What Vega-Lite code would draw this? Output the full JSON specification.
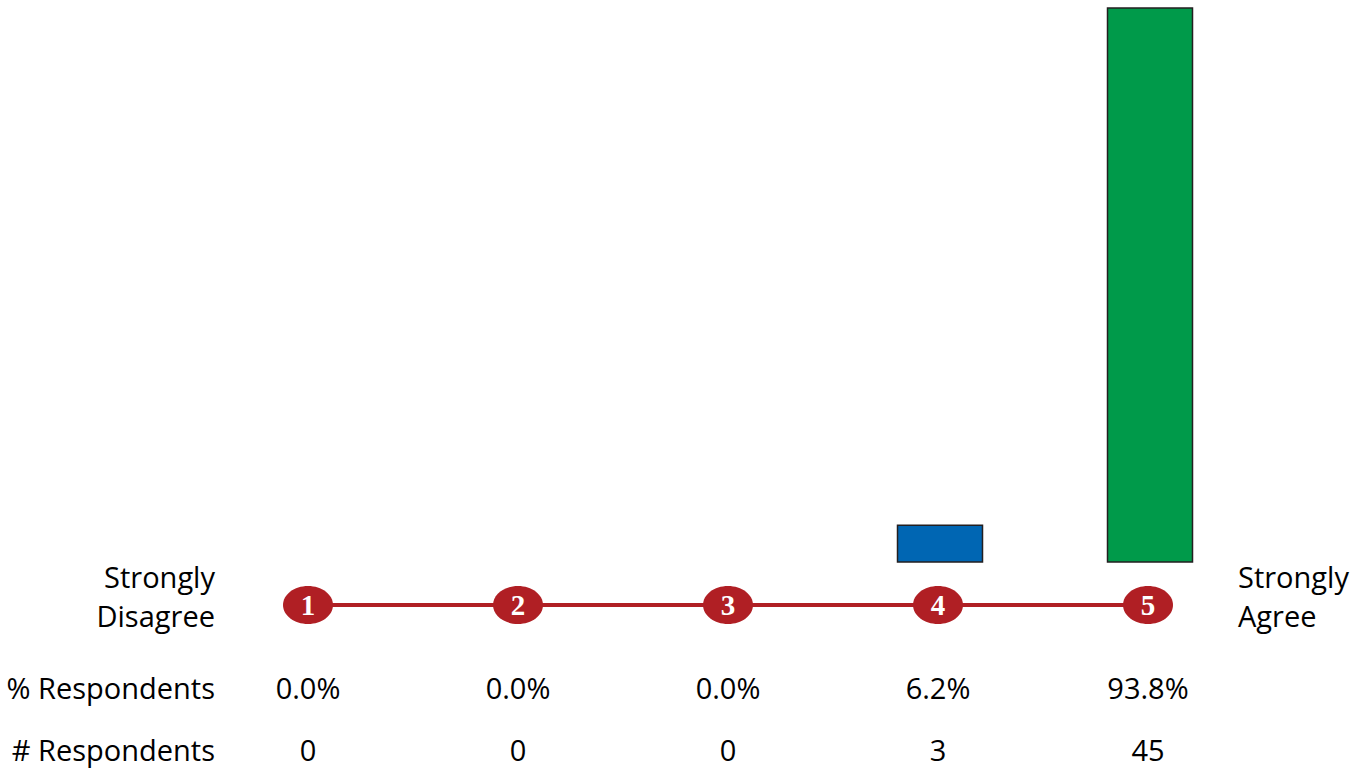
{
  "$schema": "https://vega.github.io/schema/vega-lite/v6.json",
  "width": 1360,
  "height": 770,
  "padding": 0,
  "autosize": "none",
  "config": {"view": {"stroke": null}, "text": {"font": "Open Sans", "fontSize": 29, "color": "#000000"}},
  "data": {"values": [
    {"score": 1, "share": 0.0, "count": 0},
    {"score": 2, "share": 0.0, "count": 0},
    {"score": 3, "share": 0.0, "count": 0},
    {"score": 4, "share": 0.062, "count": 3},
    {"score": 5, "share": 0.938, "count": 45}
  ]},
  "layer": [
    {
      "transform": [{"filter": "datum.share > 0"}],
      "mark": {"type": "bar", "width": 85, "xOffset": 2, "stroke": "#231f20", "strokeWidth": 1.5},
      "encoding": {
        "x": {"field": "score", "type": "quantitative", "scale": {"domain": [-0.4667, 6.0095], "nice": false, "zero": false, "padding": 0}, "axis": null},
        "y": {"field": "share", "type": "quantitative", "scale": {"domain": [-0.3522, 0.9515], "nice": false, "zero": false, "padding": 0}, "axis": null},
        "y2": {"datum": 0},
        "color": {"field": "score", "type": "nominal", "scale": {"domain": [1, 2, 3, 4, 5], "range": ["#c0272d", "#f7941d", "#ffde17", "#0066b3", "#009a4a"]}, "legend": null}
      }
    },
    {
      "mark": {"type": "line", "color": "#b01f24", "strokeWidth": 4},
      "encoding": {
        "x": {"field": "score", "type": "quantitative", "scale": {"domain": [-0.4667, 6.0095], "nice": false, "zero": false, "padding": 0}, "axis": null},
        "y": {"datum": -0.0728, "type": "quantitative", "scale": {"domain": [-0.3522, 0.9515], "nice": false, "zero": false, "padding": 0}, "axis": null}
      }
    },
    {
      "mark": {"type": "point", "shape": "M -1 0 A 1 0.76 0 1 0 1 0 A 1 0.76 0 1 0 -1 0 Z", "filled": true, "color": "#b01f24", "opacity": 1, "size": 2500},
      "encoding": {
        "x": {"field": "score", "type": "quantitative"},
        "y": {"datum": -0.0728, "type": "quantitative"}
      }
    },
    {
      "mark": {"type": "text", "font": "Liberation Serif", "fontWeight": "bold", "fontSize": 29, "color": "#ffffff", "baseline": "middle", "dy": 1},
      "encoding": {
        "x": {"field": "score", "type": "quantitative"},
        "y": {"datum": -0.0728, "type": "quantitative"},
        "text": {"field": "score", "type": "quantitative"}
      }
    },
    {
      "mark": {"type": "text", "baseline": "middle", "align": "center"},
      "encoding": {
        "x": {"field": "score", "type": "quantitative"},
        "y": {"datum": -0.2167, "type": "quantitative"},
        "text": {"field": "share", "type": "quantitative", "format": ".1%"}
      }
    },
    {
      "mark": {"type": "text", "baseline": "middle", "align": "center"},
      "encoding": {
        "x": {"field": "score", "type": "quantitative"},
        "y": {"datum": -0.3217, "type": "quantitative"},
        "text": {"field": "count", "type": "quantitative"}
      }
    },
    {
      "data": {"values": [{"label": "% Respondents"}]},
      "mark": {"type": "text", "baseline": "middle", "align": "right"},
      "encoding": {
        "x": {"datum": 0.557, "type": "quantitative"},
        "y": {"datum": -0.2167, "type": "quantitative"},
        "text": {"field": "label"}
      }
    },
    {
      "data": {"values": [{"label": "# Respondents"}]},
      "mark": {"type": "text", "baseline": "middle", "align": "right"},
      "encoding": {
        "x": {"datum": 0.557, "type": "quantitative"},
        "y": {"datum": -0.3217, "type": "quantitative"},
        "text": {"field": "label"}
      }
    },
    {
      "data": {"values": [{"label": "Strongly Disagree"}]},
      "mark": {"type": "text", "baseline": "middle", "align": "right", "lineHeight": 39, "text": ["Strongly", "Disagree"]},
      "encoding": {
        "x": {"datum": 0.557, "type": "quantitative"},
        "y": {"datum": -0.0288, "type": "quantitative"}
      }
    },
    {
      "data": {"values": [{"label": "Strongly Agree"}]},
      "mark": {"type": "text", "baseline": "middle", "align": "left", "lineHeight": 39, "text": ["Strongly", "Agree"]},
      "encoding": {
        "x": {"datum": 5.4286, "type": "quantitative"},
        "y": {"datum": -0.0288, "type": "quantitative"}
      }
    }
  ]
}
